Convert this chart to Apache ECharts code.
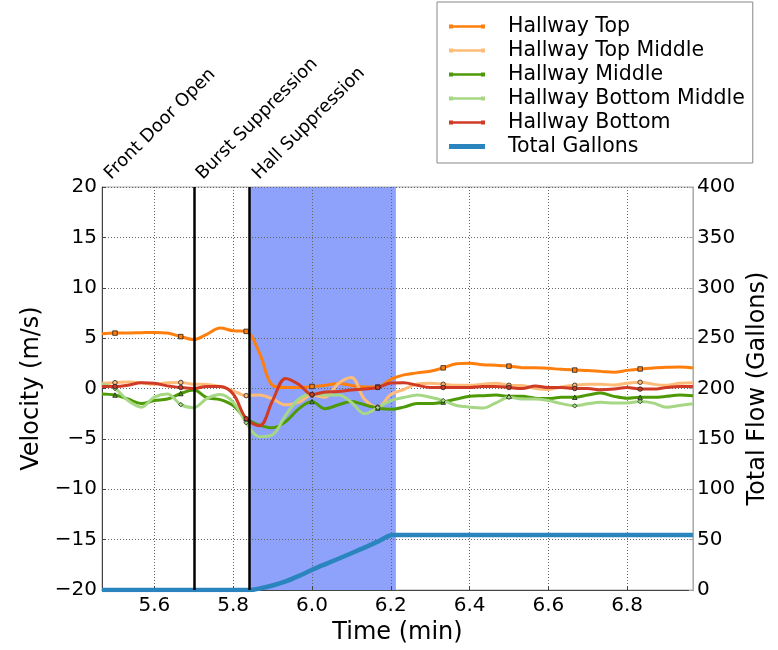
<!DOCTYPE html>
<html><head><meta charset="utf-8">
<script src="https://cdn.jsdelivr.net/npm/echarts@6/dist/echarts.min.js"></script>
<style>html,body{margin:0;padding:0;background:#fff}#c{width:778px;height:650px}</style>
</head><body><div id="c"></div>
<script>
const times = [5.467,5.5,5.533,5.567,5.6,5.633,5.667,5.7,5.733,5.767,5.8,5.833,5.867,5.9,5.933,5.967,6.0,6.033,6.067,6.1,6.133,6.167,6.2,6.233,6.267,6.3,6.333,6.367,6.4,6.433,6.467,6.5,6.533,6.567,6.6,6.633,6.667,6.7,6.733,6.767,6.8,6.833,6.867,6.9,6.933,6.967];
const hallwayTop = [5.44,5.5,5.5,5.54,5.57,5.5,5.15,4.86,5.38,6.0,5.73,5.67,3.5,0.3,0.1,0.1,0.2,0.3,0.5,0.3,0.15,0.15,0.9,1.35,1.55,1.72,2.05,2.45,2.5,2.36,2.3,2.22,2.07,2.05,2.0,1.9,1.83,1.78,1.7,1.62,1.8,1.94,2.04,2.1,2.14,2.04];
const hallwayTopMiddle = [0.52,0.58,0.65,0.58,0.42,0.58,0.6,0.42,0.4,0.2,-0.23,-0.71,-0.65,-1.04,-1.62,-1.36,-0.65,-0.87,0.5,1.1,-1.04,-1.85,-0.6,-0.1,0.45,0.52,0.42,0.32,0.32,0.42,0.52,0.32,0.3,0.0,-0.1,0.15,0.32,0.42,0.42,0.35,0.52,0.62,0.42,0.32,0.52,0.58];
const hallwayMiddle = [-0.55,-0.65,-1.04,-1.5,-1.2,-1.04,-0.5,-0.15,-0.9,-1.1,-1.7,-3.0,-3.63,-3.9,-3.3,-2.0,-1.3,-2.0,-1.62,-1.3,-1.62,-1.94,-2.07,-1.85,-1.5,-1.5,-1.35,-1.04,-0.78,-0.71,-0.65,-0.78,-0.78,-0.97,-1.0,-0.87,-0.87,-0.65,-0.45,-0.78,-0.97,-0.87,-0.87,-0.78,-0.65,-0.71];
const hallwayBottomMiddle = [0.45,0.0,-1.2,-1.85,-0.85,-0.55,-1.6,-1.9,-1.0,-0.6,-1.36,-3.4,-4.8,-4.6,-2.66,-1.04,-0.55,-0.65,-0.65,-1.36,-2.5,-1.9,-1.2,-0.9,-0.65,-0.87,-1.2,-1.68,-1.85,-1.94,-1.43,-0.87,-1.04,-1.04,-1.2,-1.5,-1.72,-1.52,-1.36,-1.45,-1.43,-1.3,-1.45,-1.85,-1.68,-1.52];
const hallwayBottom = [0.2,0.2,0.32,0.58,0.52,0.26,0.1,0.0,0.2,0.2,-0.55,-3.0,-3.7,-1.2,1.0,0.4,-0.6,-0.35,-0.3,-0.15,-0.06,0.1,0.55,0.58,0.32,0.1,0.1,0.1,0.1,0.2,0.2,0.1,0.0,0.26,0.1,0.1,0.0,0.0,-0.13,-0.06,0.1,-0.06,-0.06,0.1,0.2,0.2];
const gallonTimes = [5.467,5.843,5.867,5.9,5.933,5.967,6.0,6.033,6.067,6.1,6.133,6.167,6.205,6.967];
const totalGallons = [0,0,1.5,4.5,8.5,14,20,25.5,31,36.5,42,48,54.5,54.5];
const markerIdx = [1,6,11,16,21,26,31,36,41];
const eventTimes = [5.467,5.7,5.843];
const eventLabels = ['Front Door Open','Burst Suppression','Hall Suppression'];
const shadeRange = [5.843,6.213];
const xTicks = [5.6,5.8,6.0,6.2,6.4,6.6,6.8];

const FONT = 'DejaVu Sans';
const chart = echarts.init(document.getElementById('c'), null, {renderer:'canvas'});
const ICON_MARK = 'path://M0,1H4V1.8H32V1H36V5H32V4.2H4V5H0Z';
const ICON_BAR = 'path://M0,0H36V5H0Z';
function mk(name, vals, color, sym){
  return {
    name, type:'line', yAxisIndex:0, z:3, smooth:0.35, symbol:sym, symbolSize:4.5,
    showSymbol:true, showAllSymbol:true,
    lineStyle:{color, width:3}, itemStyle:{color, borderColor:'#222', borderWidth:0.8},
    emphasis:{disabled:true},
    data: vals.map((v,i)=>({value:[times[i], v], symbol: markerIdx.includes(i) ? sym : 'none'}))
  };
}
const minus = v => (v < 0 ? '\u2212' + (-v) : '' + v);
const legendNames = ['Hallway Top','Hallway Top Middle','Hallway Middle','Hallway Bottom Middle','Hallway Bottom','Total Gallons'];
const option = {
  animation:false,
  backgroundColor:'#fff',
  textStyle:{fontFamily:FONT},
  grid:{left:102, top:187, width:592, height:411, show:true, borderColor:'#aaa', borderWidth:1, containLabel:false},
  legend:{
    orient:'vertical', left:437, top:2, padding:[14,8,6,12], itemWidth:36, itemHeight:5, itemGap:3,
    borderColor:'#888', borderWidth:1, backgroundColor:'#fff',
    itemStyle:{borderWidth:0},
    textStyle:{fontSize:20.5, fontFamily:FONT, color:'#000', padding:[0,0,0,18], lineHeight:21},
    data: legendNames.map((n,i)=>({name:n, icon: i===5 ? ICON_BAR : ICON_MARK}))
  },
  xAxis:{
    type:'value', min:times[0], max:times[times.length-1], interval:0.2, z:2,
    name:'Time (min)', nameLocation:'middle', nameGap:31,
    nameTextStyle:{fontSize:24, fontFamily:FONT, color:'#000'},
    axisLine:{show:true, onZero:false, lineStyle:{color:'#444', width:1}},
    axisTick:{show:true, inside:true, length:4, customValues:xTicks, lineStyle:{color:'#444'}},
    axisLabel:{customValues:xTicks, formatter:v=>v.toFixed(1), fontSize:20, fontFamily:FONT, color:'#000', margin:6},
    splitLine:{show:true, lineStyle:{type:[1,2], color:'#666', width:1}}
  },
  yAxis:[{
    type:'value', min:-20, max:20, interval:5, z:2, position:'left',
    name:'Velocity (m/s)', nameLocation:'middle', nameGap:54,
    nameTextStyle:{fontSize:24, fontFamily:FONT, color:'#000'},
    axisLine:{show:true, lineStyle:{color:'#444'}},
    axisTick:{show:true, inside:true, length:4, lineStyle:{color:'#444'}},
    axisLabel:{formatter:minus, fontSize:20, fontFamily:FONT, color:'#000', margin:5},
    splitLine:{show:true, lineStyle:{type:[1,2], color:'#666', width:1}}
  },{
    type:'value', min:0, max:400, interval:50, z:2, position:'right',
    name:'Total Flow (Gallons)', nameLocation:'middle', nameGap:52, nameRotate:90,
    nameTextStyle:{fontSize:24, fontFamily:FONT, color:'#000'},
    axisLine:{show:true, lineStyle:{color:'#aaa'}},
    axisTick:{show:true, inside:true, length:4, lineStyle:{color:'#aaa'}},
    axisLabel:{fontSize:20, fontFamily:FONT, color:'#000', margin:4},
    splitLine:{show:false}
  }],
  series:[
    {name:'shade', type:'line', z:1, data:[], symbol:'none',
     markArea:{silent:true, z:1, itemStyle:{color:'#8ea2fb', opacity:1},
       data:[[{xAxis:shadeRange[0]},{xAxis:shadeRange[1]}]]},
     markLine:{silent:true, symbol:'none', z:6, label:{show:false},
       lineStyle:{color:'#000', width:2.5, type:'solid'},
       data: eventTimes.slice(1).map(t=>({xAxis:t}))}
    },
    mk('Hallway Top', hallwayTop, '#ff7f0e', 'rect'),
    mk('Hallway Top Middle', hallwayTopMiddle, '#ffbb78', 'circle'),
    mk('Hallway Middle', hallwayMiddle, '#4e9a06', 'triangle'),
    mk('Hallway Bottom Middle', hallwayBottomMiddle, '#a6d785', 'diamond'),
    mk('Hallway Bottom', hallwayBottom, '#d03b25', 'circle'),
    {name:'Total Gallons', type:'line', yAxisIndex:1, z:3, symbol:'none', smooth:0.3,
     lineStyle:{color:'#2a84bd', width:4.5}, itemStyle:{color:'#2a84bd'},
     data: gallonTimes.map((t,i)=>[t, totalGallons[i]])}
  ]
};
chart.setOption(option);
const plotTop = chart.convertToPixel({gridIndex:0}, [times[0], 20])[1];
chart.setOption({
  graphic: eventTimes.map((t,i)=>{
    const x = chart.convertToPixel({xAxisIndex:0}, t);
    return {type:'text', x:x+12, y:plotTop-4, rotation:Math.PI/4, z:10,
      style:{text:eventLabels[i], font:'18px "DejaVu Sans"', fill:'#000',
        textAlign:'left', textVerticalAlign:'bottom', align:'left', verticalAlign:'bottom'}};
  })
});
</script></body></html>
